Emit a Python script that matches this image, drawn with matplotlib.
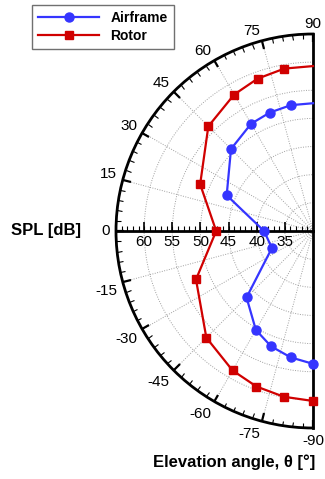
import numpy as np
import matplotlib
matplotlib.use("Agg")
import matplotlib.pyplot as plt
from matplotlib import transforms
from matplotlib.ticker import FixedLocator
from matplotlib.markers import TICKUP

plt.rcParams['font.family'] = ['Liberation Sans', 'DejaVu Sans']

# Elevation angles [deg] and sound pressure levels [dB]
theta_deg = [90, 80, 70, 60, 45, 22.5, 0, -22.5, -45, -60, -70, -80, -90]
spl_airframe = [52.7, 52.7, 52.4, 52.0, 50.6, 46.6, 38.7, 37.9, 46.7, 50.3, 51.8, 52.8, 53.6]
spl_rotor = [59.3, 59.3, 58.8, 58.0, 56.3, 51.7, 47.2, 52.5, 56.8, 58.6, 59.4, 59.9, 60.2]

angle_ticks = list(range(-90, 91, 15))
angle_minor = list(range(-90, 91, 3))
spl_ticks = [60, 55, 50, 45, 40, 35]
spl_min, spl_max = 30, 65

blue = '#3535ff'
red = '#d00000'

W, H = 325, 479
fig = plt.figure(figsize=(W / 100, H / 100), dpi=100)
# half-disk: centre at (313, 231) px from top-left, radius 197 px;
# the polar wedge is fitted into a square box, so the box is 2R wide
cx, cy, R = 313.0, 231.0, 197.0
left = (cx - R / 2 - R) / W
bottom = (H - (cy + R)) / H
ax = fig.add_axes([left, bottom, 2 * R / W, 2 * R / H], projection='polar')
ax.set_theta_zero_location('W')
ax.set_theta_direction(-1)
ax.set_thetamin(-90)
ax.set_thetamax(90)
ax.set_ylim(spl_min, spl_max)

th = np.radians(theta_deg)
ax.plot(th, spl_airframe, color=blue, lw=1.6, marker='o', ms=6.5,
        markevery=slice(1, None), label='Airframe', zorder=5, clip_on=False)
ax.plot(th, spl_rotor, color=red, lw=1.6, marker='s', ms=5.5,
        markevery=slice(1, None), label='Rotor', zorder=5, clip_on=False)

# angular axis: ticks on the outer arc pointing inwards
ax.set_xticks(np.radians(angle_ticks))
ax.set_xticklabels([str(a) for a in angle_ticks], fontsize=11)
ax.xaxis.set_minor_locator(FixedLocator(np.radians(angle_minor)))
ax.tick_params(axis='x', which='both', top=True, bottom=False)
# polar theta labels get 7 pt of extra padding internally
ax.tick_params(axis='x', which='major', direction='in', length=6, width=1.6,
               pad=4.3 - 7)
ax.tick_params(axis='x', which='minor', direction='in', length=3.5, width=0.8)
# labels hang off the arc by their near corner instead of their centre
for lbl, a in zip(ax.get_xticklabels(), angle_ticks):
    lbl.set_horizontalalignment('center' if abs(a) == 90 else 'right')
    lbl.set_verticalalignment('baseline' if a > 0 else ('top' if a < 0 else 'center'))

# radial grid
ax.set_yticks(spl_ticks)
ax.set_yticklabels([])
ax.tick_params(axis='y', length=0)
ax.grid(True, which='major', color='#a0a0a0', lw=0.7, ls=(0, (1, 1.5)))

for name in ('polar', 'start', 'end'):
    ax.spines[name].set_linewidth(2)
    ax.spines[name].set_color('black')

# horizontal 0 deg axis with tick marks
ax.plot([0, 0], [spl_min, spl_max], color='black', lw=2, zorder=4, clip_on=False)
minor_r = list(range(spl_min + 1, spl_max))
ax.plot(np.zeros(len(minor_r)), minor_r, ls='none', marker=TICKUP, ms=3.5,
        mew=0.8, color='black', zorder=4, clip_on=False)
ax.plot(np.zeros(len(spl_ticks)), spl_ticks, ls='none', marker=TICKUP, ms=6.5,
        mew=1.2, color='black', zorder=4, clip_on=False)
shift = transforms.ScaledTranslation(0, -3 / 72, fig.dpi_scale_trans)
for r in spl_ticks:
    ax.text(0, r, str(r), ha='center', va='top', fontsize=11,
            transform=ax.transData + shift)

fig.text(0.035, 0.519, 'SPL [dB]', fontsize=12, fontweight='bold',
         ha='left', va='center')
fig.text(0.97, 0.034, 'Elevation angle, θ [°]', fontsize=12, fontweight='bold',
         ha='right', va='center')

leg = fig.legend(loc='upper left', bbox_to_anchor=(32 / W, 1 - 5 / H),
                 borderaxespad=0,
                 prop={'weight': 'bold', 'size': 10}, handlelength=4.4,
                 fancybox=False, edgecolor='#707070', framealpha=1,
                 borderpad=0.45, labelspacing=0.25, handletextpad=0.8)
leg.get_frame().set_linewidth(1)

fig.savefig('out.png', dpi=100)
